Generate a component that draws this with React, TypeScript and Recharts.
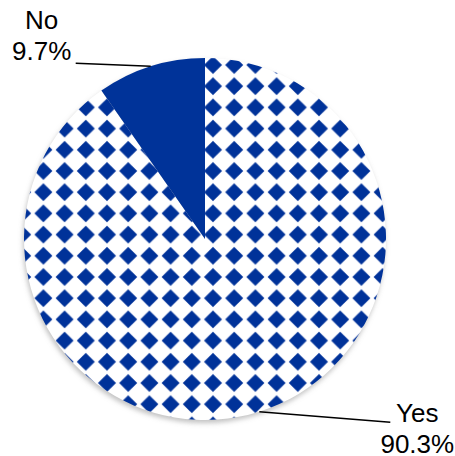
import React from "react";
import { PieChart, Pie, Cell } from "recharts";

const categories = ["Yes", "No"];
const values = [90.3, 9.7];
const percentLabels = ["90.3%", "9.7%"];

const data = categories.map((name, i) => ({ name, value: values[i], pct: percentLabels[i] }));
const shadowData = [{ name: "shadow", value: 1 }];

const BLUE = "#003399";
const FONT = "'Liberation Sans', Arial, sans-serif";

// label layout offsets relative to slice mid-point on the outer edge
const labelLayout: Record<string, { lineDx: number; lineDy: number; textDx: number; y1: number; y2: number }> = {
  Yes: { lineDx: 131, lineDy: 10.5, textDx: 158, y1: 10, y2: 41.5 },
  No: { lineDx: -75, lineDy: -3, textDx: -109, y1: -37.5, y2: -6.5 },
};

const RADIAN = Math.PI / 180;

const renderLabel = (props: any) => {
  const { cx, cy, midAngle, outerRadius, name, payload } = props;
  const ax = cx + outerRadius * Math.cos(-midAngle * RADIAN);
  const ay = cy + outerRadius * Math.sin(-midAngle * RADIAN);
  const l = labelLayout[name];
  if (!l) return null;
  const pct = payload?.pct ?? (payload?.payload?.pct);
  return (
    <g>
      <line x1={ax} y1={ay} x2={ax + l.lineDx} y2={ay + l.lineDy} stroke="#000" strokeWidth={1.5} />
      <text x={ax + l.textDx} y={ay + l.y1} textAnchor="middle" fontSize={26} fontFamily={FONT} fill="#000">
        {name}
      </text>
      <text x={ax + l.textDx} y={ay + l.y2} textAnchor="middle" fontSize={26} fontFamily={FONT} fill="#000">
        {pct}
      </text>
    </g>
  );
};

export default function App() {
  return (
    <div style={{ position: "absolute", left: 0, top: 0, width: 455, height: 456, background: "#fff" }}>
      <PieChart width={455} height={456} margin={{ top: 0, right: 0, bottom: 0, left: 0 }}>
        <defs>
          <filter id="soft" x="-20%" y="-20%" width="140%" height="140%">
            <feGaussianBlur stdDeviation="0.6" />
          </filter>
          <pattern id="diamonds" patternUnits="userSpaceOnUse" x={202.4} y={54.4} width={21.2} height={21.2}>
            <rect x={0} y={0} width={21.2} height={21.2} fill="#fff" />
            <polygon points="10.6,1.6 19.6,10.6 10.6,19.6 1.6,10.6" fill={BLUE} filter="url(#soft)" />
          </pattern>
          <filter id="blurShadow" x="-10%" y="-10%" width="120%" height="120%">
            <feGaussianBlur stdDeviation="2.5" />
          </filter>
        </defs>
        <Pie
          data={shadowData}
          dataKey="value"
          cx={204}
          cy={242}
          outerRadius={181}
          startAngle={90}
          endAngle={-270}
          stroke="none"
          isAnimationActive={false}
          label={false}
          labelLine={false}
        >
          <Cell fill="#9a9a9a" fillOpacity={0.6} filter="url(#blurShadow)" />
        </Pie>
        <Pie
          data={data}
          dataKey="value"
          nameKey="name"
          cx={205}
          cy={239}
          outerRadius={181}
          startAngle={90}
          endAngle={-270}
          stroke="none"
          isAnimationActive={false}
          label={renderLabel}
          labelLine={false}
        >
          <Cell fill="url(#diamonds)" />
          <Cell fill={BLUE} />
        </Pie>
      </PieChart>
    </div>
  );
}
